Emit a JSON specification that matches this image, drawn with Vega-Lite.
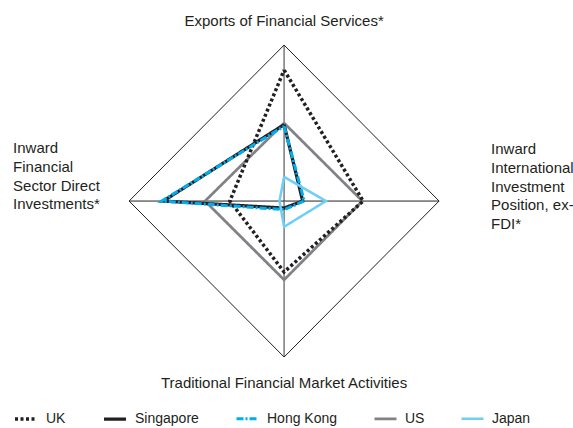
{
  "$schema": "https://vega.github.io/schema/vega-lite/v6.json",
  "width": 573,
  "height": 428,
  "autosize": {"type": "none"},
  "padding": 0,
  "config": {
    "view": {"stroke": null},
    "font": "Liberation Sans",
    "text": {"font": "Liberation Sans", "fontSize": 15, "color": "#231f20"}
  },
  "datasets": {
    "scores": [
      {"series": "US", "dimension": "Exports", "k": 0, "value": 0.50},
      {"series": "US", "dimension": "IIP", "k": 1, "value": 0.505},
      {"series": "US", "dimension": "Traditional", "k": 2, "value": 0.505},
      {"series": "US", "dimension": "FDI", "k": 3, "value": 0.51},
      {"series": "US", "dimension": "Exports", "k": 4, "value": 0.50},
      {"series": "UK", "dimension": "Exports", "k": 0, "value": 0.84},
      {"series": "UK", "dimension": "IIP", "k": 1, "value": 0.51},
      {"series": "UK", "dimension": "Traditional", "k": 2, "value": 0.455},
      {"series": "UK", "dimension": "FDI", "k": 3, "value": 0.35},
      {"series": "UK", "dimension": "Exports", "k": 4, "value": 0.84},
      {"series": "Singapore", "dimension": "Exports", "k": 0, "value": 0.49},
      {"series": "Singapore", "dimension": "IIP", "k": 1, "value": 0.12},
      {"series": "Singapore", "dimension": "Traditional", "k": 2, "value": 0.045},
      {"series": "Singapore", "dimension": "FDI", "k": 3, "value": 0.78},
      {"series": "Singapore", "dimension": "Exports", "k": 4, "value": 0.49},
      {"series": "Hong Kong", "dimension": "Exports", "k": 0, "value": 0.48},
      {"series": "Hong Kong", "dimension": "IIP", "k": 1, "value": 0.13},
      {"series": "Hong Kong", "dimension": "Traditional", "k": 2, "value": 0.055},
      {"series": "Hong Kong", "dimension": "FDI", "k": 3, "value": 0.79},
      {"series": "Hong Kong", "dimension": "Exports", "k": 4, "value": 0.48},
      {"series": "Japan", "dimension": "Exports", "k": 0, "value": 0.155},
      {"series": "Japan", "dimension": "IIP", "k": 1, "value": 0.27},
      {"series": "Japan", "dimension": "Traditional", "k": 2, "value": 0.165},
      {"series": "Japan", "dimension": "FDI", "k": 3, "value": 0.03},
      {"series": "Japan", "dimension": "Exports", "k": 4, "value": 0.155}
    ],
    "frame": [
      {"dimension": "Exports", "k": 0, "value": 1, "label": "Exports of Financial Services*"},
      {"dimension": "IIP", "k": 1, "value": 1, "label": "Inward\nInternational\nInvestment\nPosition, ex-\nFDI*"},
      {"dimension": "Traditional", "k": 2, "value": 1, "label": "Traditional Financial Market Activities"},
      {"dimension": "FDI", "k": 3, "value": 1, "label": "Inward\nFinancial\nSector Direct\nInvestments*"},
      {"dimension": "Exports", "k": 4, "value": 1, "label": ""}
    ]
  },
  "resolve": {"scale": {"color": "independent", "strokeDash": "independent", "strokeWidth": "independent"}},
  "layer": [
    {
      "data": {"name": "frame"},
      "transform": [
        {"filter": "datum.k < 4"},
        {"calculate": "datum.dimension === 'IIP' ? datum.value : (datum.dimension === 'FDI' ? -datum.value : 0)", "as": "x"},
        {"calculate": "datum.dimension === 'Exports' ? datum.value : (datum.dimension === 'Traditional' ? -datum.value : 0)", "as": "y"}
      ],
      "mark": {"type": "rule"},
      "encoding": {
        "x": {"field": "x", "type": "quantitative", "scale": {"domain": [-1.833, 1.864], "nice": false, "zero": false}, "axis": null},
        "y": {"field": "y", "type": "quantitative", "scale": {"domain": [-1.455, 1.289], "nice": false, "zero": false}, "axis": null},
        "x2": {"datum": 0},
        "y2": {"datum": 0},
        "color": {
          "condition": {"test": "datum.dimension === 'Exports' || datum.dimension === 'Traditional'", "value": "#808285"},
          "value": "#231f20"
        },
        "strokeWidth": {
          "condition": {"test": "datum.dimension === 'Exports' || datum.dimension === 'Traditional'", "value": 1.6},
          "value": 1
        }
      }
    },
    {
      "data": {"name": "frame"},
      "transform": [
        {"calculate": "datum.dimension === 'IIP' ? datum.value : (datum.dimension === 'FDI' ? -datum.value : 0)", "as": "x"},
        {"calculate": "datum.dimension === 'Exports' ? datum.value : (datum.dimension === 'Traditional' ? -datum.value : 0)", "as": "y"}
      ],
      "mark": {"type": "line", "color": "#231f20", "strokeWidth": 1},
      "encoding": {
        "x": {"field": "x", "type": "quantitative"},
        "y": {"field": "y", "type": "quantitative"},
        "order": {"field": "k", "type": "quantitative"}
      }
    },
    {
      "data": {"name": "scores"},
      "transform": [
        {"calculate": "datum.dimension === 'IIP' ? datum.value : (datum.dimension === 'FDI' ? -datum.value : 0)", "as": "x"},
        {"calculate": "datum.dimension === 'Exports' ? datum.value : (datum.dimension === 'Traditional' ? -datum.value : 0)", "as": "y"}
      ],
      "mark": {"type": "line", "strokeJoin": "miter", "strokeCap": "butt"},
      "encoding": {
        "x": {"field": "x", "type": "quantitative"},
        "y": {"field": "y", "type": "quantitative"},
        "order": {"field": "k", "type": "quantitative"},
        "detail": {"field": "series", "type": "nominal"},
        "color": {
          "field": "series", "type": "nominal",
          "scale": {"domain": ["UK", "Singapore", "Hong Kong", "US", "Japan"], "range": ["#231f20", "#231f20", "#00aeef", "#808285", "#6dcff6"]},
          "legend": {
            "orient": "none", "legendX": 13, "legendY": 406, "direction": "horizontal",
            "title": null, "padding": 0, "columnPadding": 31,
            "symbolType": "stroke", "symbolSize": 484, "labelFontSize": 14,
            "labelFont": "Liberation Sans", "labelColor": "#231f20", "labelOffset": 7
          }
        },
        "strokeDash": {
          "field": "series", "type": "nominal",
          "scale": {"domain": ["UK", "Singapore", "Hong Kong", "US", "Japan"], "range": [[3, 2.5], [1, 0], [7, 2, 2, 2], [1, 0], [1, 0]]},
          "legend": {
            "orient": "none", "legendX": 13, "legendY": 406, "direction": "horizontal",
            "title": null, "padding": 0, "columnPadding": 31,
            "symbolType": "stroke", "symbolSize": 484, "labelFontSize": 14,
            "labelFont": "Liberation Sans", "labelColor": "#231f20", "labelOffset": 7
          }
        },
        "strokeWidth": {
          "field": "series", "type": "nominal",
          "scale": {"domain": ["UK", "Singapore", "Hong Kong", "US", "Japan"], "range": [3.5, 2.5, 2.5, 4, 4]},
          "legend": {
            "orient": "none", "legendX": 13, "legendY": 406, "direction": "horizontal",
            "title": null, "padding": 0, "columnPadding": 31,
            "symbolType": "stroke", "symbolSize": 484, "labelFontSize": 14,
            "labelFont": "Liberation Sans", "labelColor": "#231f20", "labelOffset": 7
          }
        }
      }
    },
    {
      "data": {"name": "frame"},
      "transform": [
        {"filter": "datum.k === 0"},
        {"calculate": "0", "as": "x"},
        {"calculate": "datum.value", "as": "y"}
      ],
      "mark": {"type": "text", "align": "center", "baseline": "middle", "dy": -24},
      "encoding": {
        "x": {"field": "x", "type": "quantitative"},
        "y": {"field": "y", "type": "quantitative"},
        "text": {"field": "label", "type": "nominal"}
      }
    },
    {
      "data": {"name": "frame"},
      "transform": [
        {"filter": "datum.k === 2"},
        {"calculate": "0", "as": "x"},
        {"calculate": "-datum.value", "as": "y"}
      ],
      "mark": {"type": "text", "align": "center", "baseline": "middle", "dy": 26},
      "encoding": {
        "x": {"field": "x", "type": "quantitative"},
        "y": {"field": "y", "type": "quantitative"},
        "text": {"field": "label", "type": "nominal"}
      }
    },
    {
      "data": {"name": "frame"},
      "transform": [
        {"filter": "datum.k === 3"},
        {"calculate": "-datum.value", "as": "x"},
        {"calculate": "0", "as": "y"}
      ],
      "mark": {"type": "text", "align": "left", "baseline": "middle", "dx": -116, "dy": -53, "lineBreak": "\n", "lineHeight": 18.8},
      "encoding": {
        "x": {"field": "x", "type": "quantitative"},
        "y": {"field": "y", "type": "quantitative"},
        "text": {"field": "label", "type": "nominal"}
      }
    },
    {
      "data": {"name": "frame"},
      "transform": [
        {"filter": "datum.k === 1"},
        {"calculate": "datum.value", "as": "x"},
        {"calculate": "0", "as": "y"}
      ],
      "mark": {"type": "text", "align": "left", "baseline": "middle", "dx": 52, "dy": -52, "lineBreak": "\n", "lineHeight": 18.8},
      "encoding": {
        "x": {"field": "x", "type": "quantitative"},
        "y": {"field": "y", "type": "quantitative"},
        "text": {"field": "label", "type": "nominal"}
      }
    }
  ]
}
